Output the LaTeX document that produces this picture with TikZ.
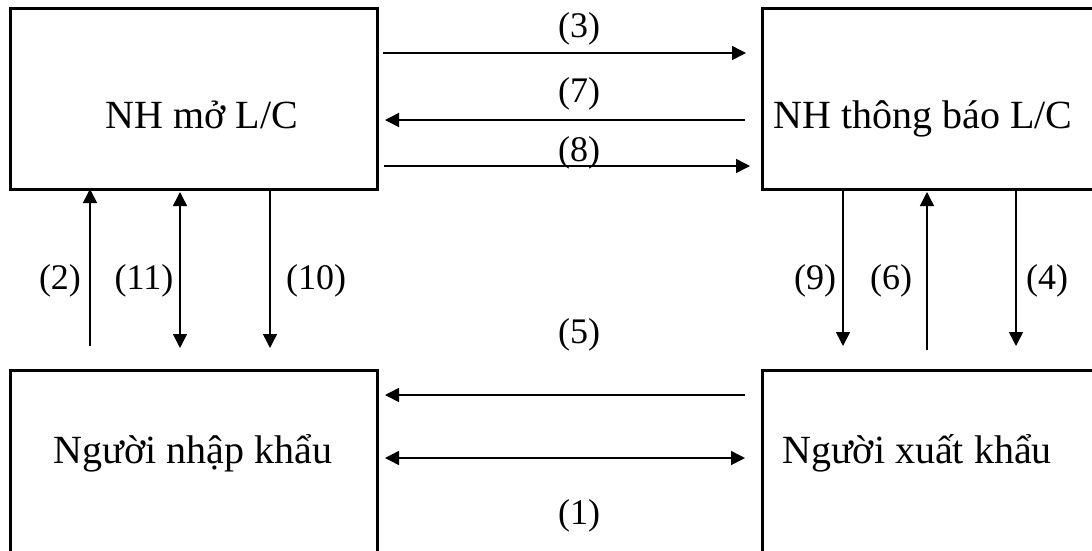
\documentclass[tikz,border=0pt]{standalone}
\usepackage{fontspec}
\setmainfont{Liberation Serif}
\usetikzlibrary{arrows.meta}
\begin{document}
\begin{tikzpicture}[x=1pt,y=-1pt,
  box/.style={draw, line width=2.6pt, rectangle, inner sep=0pt, anchor=north west},
  txt/.style={font=\fontsize{40}{46}\selectfont, inner sep=0pt, anchor=base},
  lbl/.style={font=\fontsize{36}{42}\selectfont, inner sep=0pt, anchor=center},
  arr/.style={line width=1.5pt, -{Triangle[length=14pt,width=14pt]}},
  darr/.style={line width=1.5pt, {Triangle[length=14pt,width=14pt]}-{Triangle[length=14pt,width=14pt]}}]
\clip (0,0) rectangle (1092,550);
\fill[white] (0,0) rectangle (1092,550);
% boxes
\node[box, minimum width=367pt, minimum height=181pt] (TL) at (9,7) {};
\node[box, minimum width=360pt, minimum height=181pt] (TR) at (761,7) {};
\node[box, minimum width=367pt, minimum height=220pt] (BL) at (9,369) {};
\node[box, minimum width=360pt, minimum height=220pt] (BR) at (761,369) {};
% texts
\node[txt] (tTL) at (202,128) {NH mở L/C};
\node[txt] (tTR) at (923,128) {NH thông báo L/C};
\node[txt] (tBL) at (193,463) {Người nhập khẩu};
\node[txt] (tBR) at (917,463) {Người xuất khẩu};
% horizontal connector ends
\coordinate (h3a) at (383,53);  \coordinate (h3b) at (746,53);
\coordinate (h7a) at (385,120); \coordinate (h7b) at (745,120);
\coordinate (h8a) at (384,166); \coordinate (h8b) at (750,166);
\coordinate (h5a) at (385,395); \coordinate (h5b) at (745,395);
\coordinate (h1a) at (385,458); \coordinate (h1b) at (745,458);
\draw[arr] (h3a) -- (h3b);
\draw[arr] (h7b) -- (h7a);
\draw[arr] (h8a) -- (h8b);
\draw[arr] (h5b) -- (h5a);
\draw[darr] (h1a) -- (h1b);
\node[lbl] (l3) at (579,29) {(3)};
\node[lbl] (l7) at (579,94) {(7)};
\node[lbl] (l8) at (579,153) {(8)};
\node[lbl] (l5) at (579,335) {(5)};
\node[lbl] (l1) at (579,516) {(1)};
% left verticals
\coordinate (v2a) at (90,346);  \coordinate (v2b) at (90,189);
\coordinate (v11a) at (180,192); \coordinate (v11b) at (180,348);
\coordinate (v10a) at (270,191); \coordinate (v10b) at (270,348);
\draw[arr] (v2a) -- (v2b);
\draw[darr] (v11a) -- (v11b);
\draw[arr] (v10a) -- (v10b);
\node[lbl] (l2) at (60,281) {(2)};
\node[lbl] (l11) at (144,281) {(11)};
\node[lbl] (l10) at (316,281) {(10)};
% right verticals
\coordinate (v9a) at (843,189);  \coordinate (v9b) at (843,346);
\coordinate (v6a) at (927,350);  \coordinate (v6b) at (927,192);
\coordinate (v4a) at (1016,191); \coordinate (v4b) at (1016,346);
\draw[arr] (v9a) -- (v9b);
\draw[arr] (v6a) -- (v6b);
\draw[arr] (v4a) -- (v4b);
\node[lbl] (l9) at (815,281) {(9)};
\node[lbl] (l6) at (891,281) {(6)};
\node[lbl] (l4) at (1047,281) {(4)};
\end{tikzpicture}
\end{document}
